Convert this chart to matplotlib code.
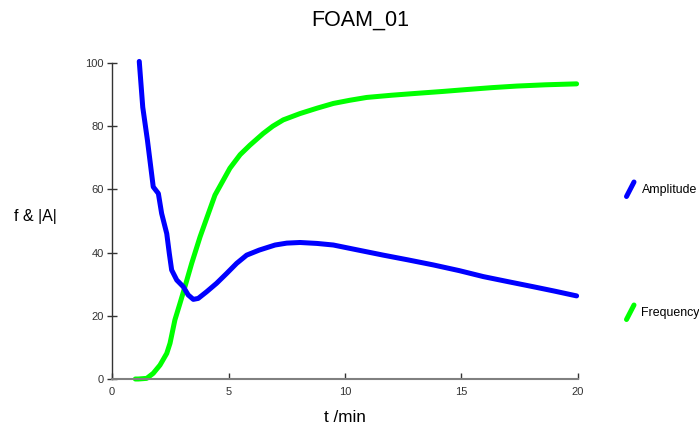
import matplotlib
matplotlib.use("Agg")
import matplotlib.pyplot as plt
from matplotlib.lines import Line2D

plt.rcParams['font.family'] = ['Liberation Sans', 'DejaVu Sans']

title = "FOAM_01"
xlabel = "t /min"
ylabel = "f & |A|"
series_names = ["Amplitude", "Frequency"]

amp_t = [1.17, 1.32, 1.52, 1.77, 1.99, 2.13, 2.35, 2.46, 2.56, 2.78, 3.06, 3.27, 3.49, 3.70,
         4.06, 4.49, 4.92, 5.35, 5.78, 6.32, 7.0, 7.5, 8.07, 8.8, 9.5, 10.5, 11.64, 12.7,
         13.79, 14.9, 15.94, 17.0, 18.08, 19.0, 19.94]
amp_v = [100.5, 86, 75.6, 60.8, 58.7, 52.4, 46, 39.7, 34.5, 31.3, 29.2, 26.6, 25.2, 25.5,
         27.6, 30.3, 33.4, 36.6, 39.2, 40.8, 42.4, 43.0, 43.2, 42.9, 42.4, 40.9, 39.2, 37.7,
         36.1, 34.3, 32.4, 30.8, 29.2, 27.8, 26.3]

freq_t = [1.0, 1.13, 1.49, 1.77, 2.06, 2.35, 2.49, 2.70, 2.92, 3.13, 3.42, 3.78, 4.06, 4.42,
          5.06, 5.5, 5.92, 6.49, 6.9, 7.35, 8.07, 8.8, 9.5, 10.2, 10.93, 12.0, 13.08,
          14.2, 15.22, 16.3, 17.37, 18.6, 19.94]
freq_v = [0, 0, 0.2, 1.8, 4.4, 8.1, 11.3, 18.7, 24, 29.2, 36.6, 45, 50.8, 58.2,
          66.7, 71.0, 74.0, 77.7, 80.0, 82.0, 84.0, 85.7, 87.2, 88.2, 89.1, 89.8, 90.4,
          91.0, 91.6, 92.2, 92.7, 93.1, 93.4]

xticks = [0, 5, 10, 15, 20]
yticks = [0, 20, 40, 60, 80, 100]

fig = plt.figure(figsize=(6.99, 4.29), dpi=100)
ax = fig.add_axes([112/699, 1-379/429, (578-112)/699, (379-63)/429])

blue = "#0000ff"
green = "#00ff00"
lw = 3.6
ax.plot(freq_t, freq_v, color=green, lw=lw, solid_capstyle='round',
        solid_joinstyle='round', zorder=2, clip_on=False)
ax.plot(amp_t, amp_v, color=blue, lw=lw, solid_capstyle='round',
        solid_joinstyle='round', zorder=3, clip_on=False)

ax.set_xlim(0, 20)
ax.set_ylim(0, 100)
ax.set_xticks(xticks)
ax.set_yticks(yticks)
for s in ['top', 'right']:
    ax.spines[s].set_visible(False)
ax.spines['left'].set_color('#333333')
ax.spines['bottom'].set_color('#808080')
ax.spines['left'].set_linewidth(1.0)
ax.spines['bottom'].set_linewidth(1.5)
ax.tick_params(axis='y', direction='inout', length=7.2, width=1, labelsize=8,
               labelcolor='#333333', color='#333333', pad=2.2)
ax.tick_params(axis='x', direction='in', length=4.5, width=1, labelsize=8,
               labelcolor='#333333', color='#333333', pad=5.8)

fig.text(360/699, 1-20.5/429, title, ha='center', va='center', fontsize=15.5)
fig.text(345/699, 1-418/429, xlabel, ha='center', va='center', fontsize=12.3)
fig.text(35.5/699, 1-217/429, ylabel, ha='center', va='center', fontsize=11.5)

# legend (outside, right)
for name, col, yc in [(series_names[0], blue, 190), (series_names[1], green, 313)]:
    fig.add_artist(Line2D([626.5/699, 634/699], [1-(yc+6.5)/429, 1-(yc-8)/429],
                          color=col, lw=lw, solid_capstyle='round'))
    fig.text(641.5/699, 1-yc/429, name, ha='left', va='center', fontsize=8.9)

fig.savefig("out.png", dpi=100)
